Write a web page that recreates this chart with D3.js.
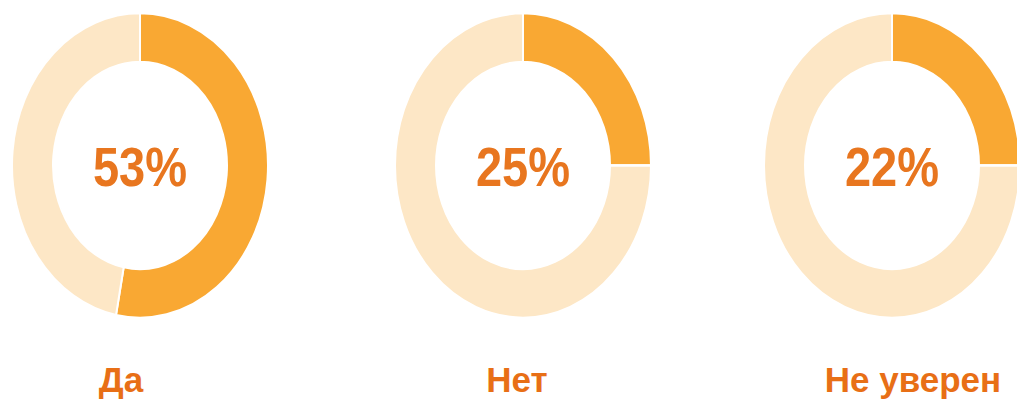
<!DOCTYPE html>
<html lang="ru">

<head>
  <meta charset="UTF-8">
  <title>Опрос</title>
  <script src="https://d3js.org/d3.v7.min.js"></script>
  <style>
    body {
      margin: 0;
      background: #fff;
      font-family: "Liberation Sans", Arial, sans-serif;
    }

    .pct {
      font-weight: bold;
      fill: #e8761f;
    }

    .label {
      font-weight: bold;
      fill: #e86f16;
    }
  </style>
</head>

<body>
  <div id="chart"></div>

  <script>
    // answers and their shares, %
    const answers = ["Да", "Нет", "Не уверен"];
    const shares = [53, 25, 22];
    // filled part of each ring as drawn in the picture (the last one is drawn as a quarter)
    const arcShares = [53, 25, 25];
    const total = 100;

    const width = 1017;
    const height = 399;

    const svg = d3.select("#chart").append("svg")
      .attr("width", width)
      .attr("height", height);

    // donut centres and label centres
    const xDonut = d3.scaleOrdinal().domain(answers).range([140, 523, 892]);
    const xLabel = d3.scalePoint().domain(answers).range([121, 913]);

    const color = d3.scaleOrdinal().domain(["share", "rest"]).range(["#f9a833", "#fde7c6"]);

    const pie = d3.pie().sort(null).value(d => d.value);
    const arc = d3.arc().innerRadius(87).outerRadius(128);

    const stretch = 1.19; // the reference is a bit taller than wide

    answers.forEach((a, i) => {
      const g = svg.append("g")
        .attr("transform", `translate(${xDonut(a)},165.5) scale(1,${stretch})`);

      g.selectAll("path")
        .data(pie([
          { key: "share", value: arcShares[i] },
          { key: "rest", value: total - arcShares[i] }
        ]))
        .enter().append("path")
        .attr("d", arc)
        .attr("fill", d => color(d.data.key))
        .attr("stroke", "#fff")
        .attr("stroke-width", 2);

      g.append("text")
        .attr("class", "pct")
        .attr("text-anchor", "middle")
        .attr("y", 17)
        .attr("font-size", "47px")
        .text(shares[i] + "%");
    });

    svg.selectAll(".label")
      .data(answers)
      .enter().append("text")
      .attr("class", "label")
      .attr("x", d => xLabel(d))
      .attr("y", 392)
      .attr("text-anchor", "middle")
      .attr("font-size", "35px")
      .text(d => d);
  </script>
</body>

</html>
